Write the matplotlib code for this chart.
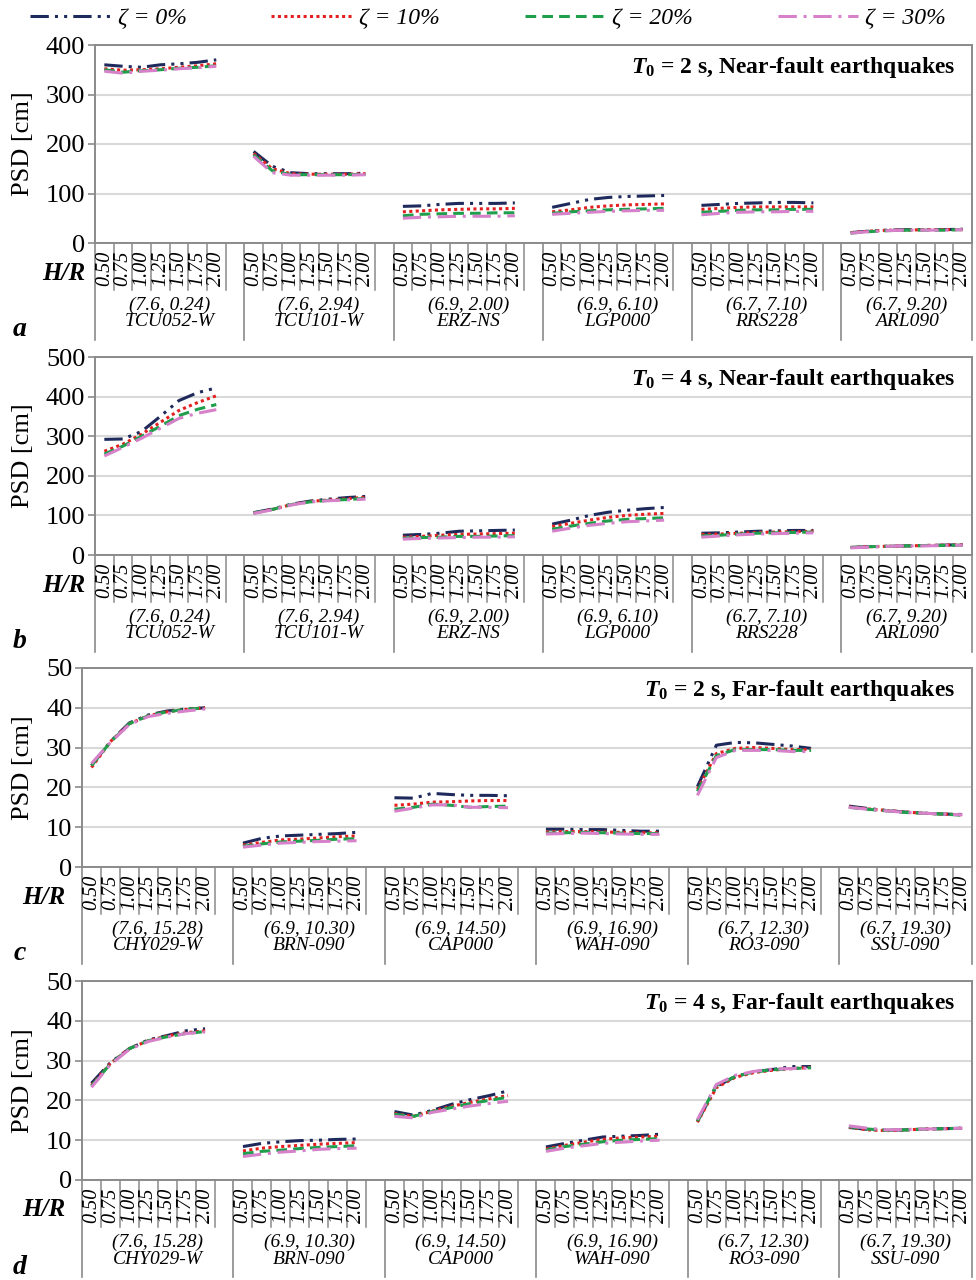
import numpy as np
import matplotlib
matplotlib.use("Agg")
import matplotlib.pyplot as plt
import matplotlib.transforms as mtransforms
from matplotlib.lines import Line2D

plt.rcParams['font.family'] = ['Liberation Serif', 'DejaVu Serif']
plt.rcParams['mathtext.fontset'] = 'custom'
plt.rcParams['mathtext.it'] = 'Liberation Serif:italic:bold'
plt.rcParams['mathtext.rm'] = 'Liberation Serif:bold'

# ---- data ----
hr_labels = ['0.50', '0.75', '1.00', '1.25', '1.50', '1.75', '2.00']
zeta_labels = ['ζ = 0%', 'ζ = 10%', 'ζ = 20%', 'ζ = 30%']

near_mw_r = ['(7.6, 0.24)', '(7.6, 2.94)', '(6.9, 2.00)', '(6.9, 6.10)', '(6.7, 7.10)', '(6.7, 9.20)']
near_names = ['TCU052-W', 'TCU101-W', 'ERZ-NS', 'LGP000', 'RRS228', 'ARL090']
far_mw_r = ['(7.6, 15.28)', '(6.9, 10.30)', '(6.9, 14.50)', '(6.9, 16.90)', '(6.7, 12.30)', '(6.7, 19.30)']
far_names = ['CHY029-W', 'BRN-090', 'CAP000', 'WAH-090', 'RO3-090', 'SSU-090']

# (a) T0 = 2 s, near-fault
a_z0 = [[360, 357, 355, 360, 362, 365, 370], [185, 155, 142, 140, 140, 140, 141], [74, 75, 78, 80, 80, 80, 81],
        [72, 80, 88, 92, 94, 95, 96], [76, 78, 80, 81, 82, 82, 81], [21, 24, 26, 27, 27, 27, 28]]
a_z10 = [[352, 349, 350, 352, 355, 358, 362], [181, 150, 140, 139, 139, 139, 140], [63, 65, 67, 68, 69, 69, 70],
         [63, 67, 72, 75, 77, 78, 79], [68, 70, 72, 73, 73, 73, 73], [21, 24, 26, 26, 27, 27, 27]]
a_z20 = [[350, 345, 348, 350, 353, 355, 358], [178, 146, 138, 138, 138, 138, 139], [55, 58, 59, 60, 60, 61, 61],
         [60, 63, 65, 67, 68, 69, 70], [62, 64, 66, 67, 67, 68, 68], [20, 23, 25, 26, 26, 26, 27]]
a_z30 = [[347, 343, 347, 349, 352, 354, 357], [175, 142, 137, 137, 137, 137, 138], [50, 52, 53, 54, 54, 54, 55],
         [58, 60, 62, 64, 65, 66, 66], [57, 60, 62, 63, 63, 64, 64], [20, 23, 25, 26, 26, 26, 27]]

# (b) T0 = 4 s, near-fault
b_z0 = [[292, 293, 312, 350, 390, 410, 422], [107, 116, 128, 136, 141, 145, 148], [50, 52, 55, 60, 61, 62, 63],
        [78, 88, 100, 108, 113, 117, 120], [55, 56, 58, 60, 61, 62, 62], [19, 21, 22, 23, 24, 25, 26]]
b_z10 = [[262, 280, 305, 335, 365, 385, 402], [106, 115, 127, 135, 139, 142, 146], [45, 47, 50, 52, 53, 54, 55],
         [72, 80, 88, 95, 100, 103, 105], [52, 53, 55, 57, 58, 59, 60], [19, 21, 22, 23, 24, 25, 26]]
b_z20 = [[255, 275, 300, 325, 352, 368, 380], [106, 115, 127, 134, 138, 140, 143], [42, 44, 45, 47, 47, 48, 49],
         [65, 73, 80, 86, 90, 92, 94], [48, 50, 53, 55, 56, 57, 58], [19, 21, 22, 23, 24, 24, 25]]
b_z30 = [[250, 272, 295, 320, 345, 358, 367], [105, 114, 126, 134, 137, 139, 141], [40, 42, 43, 44, 45, 45, 46],
         [60, 68, 75, 80, 84, 86, 88], [45, 48, 51, 53, 54, 55, 56], [18, 20, 22, 23, 23, 24, 25]]

# (c) T0 = 2 s, far-fault
c_z0 = [[25.5, 31.5, 36.2, 38.2, 39.2, 39.7, 40.0], [6.0, 7.2, 7.8, 8.0, 8.2, 8.4, 8.7],
        [17.4, 17.3, 18.5, 18.2, 18.0, 18.0, 17.9], [9.5, 9.5, 9.4, 9.4, 9.2, 9.0, 9.0],
        [20.2, 30.6, 31.3, 31.2, 30.8, 30.4, 29.8], [15.3, 14.7, 14.2, 13.8, 13.5, 13.3, 13.2]]
c_z10 = [[25.0, 31.5, 36.0, 38.0, 39.0, 39.6, 40.0], [5.5, 6.2, 6.8, 7.0, 7.3, 7.6, 7.8],
         [15.5, 15.8, 16.3, 16.4, 16.6, 16.7, 16.7], [8.8, 8.9, 8.9, 8.8, 8.7, 8.6, 8.6],
         [19.5, 28.5, 29.8, 30.0, 29.8, 29.5, 29.5], [15.1, 14.6, 14.2, 13.8, 13.5, 13.3, 13.1]]
c_z20 = [[25.5, 31.4, 36.0, 38.0, 39.0, 39.6, 40.0], [5.2, 5.8, 6.3, 6.5, 6.7, 7.0, 7.1],
         [14.5, 15.0, 15.8, 15.5, 15.0, 15.2, 15.3], [8.5, 8.6, 8.7, 8.6, 8.5, 8.4, 8.4],
         [19.0, 28.0, 29.5, 29.5, 29.5, 29.3, 29.3], [15.0, 14.5, 14.1, 13.7, 13.5, 13.3, 13.0]]
c_z30 = [[26.0, 31.3, 35.8, 37.8, 38.6, 39.2, 39.7], [5.0, 5.5, 6.0, 6.2, 6.4, 6.5, 6.6],
         [14.0, 14.8, 15.6, 15.6, 15.0, 15.0, 14.9], [8.3, 8.4, 8.5, 8.4, 8.3, 8.2, 8.2],
         [18.0, 27.5, 29.3, 29.3, 29.3, 29.0, 29.0], [15.0, 14.5, 14.1, 13.7, 13.5, 13.3, 13.1]]

# (d) T0 = 4 s, far-fault
d_z0 = [[24.3, 29.5, 33.0, 35.2, 36.3, 37.5, 38.0], [8.4, 9.2, 9.6, 9.9, 10.0, 10.2, 10.3],
        [17.2, 16.3, 17.5, 19.0, 20.2, 21.2, 22.4], [8.3, 9.2, 10.0, 10.8, 11.0, 11.2, 11.5],
        [14.7, 23.5, 26.0, 27.2, 27.8, 28.5, 28.5], [13.2, 12.7, 12.5, 12.6, 12.8, 12.9, 13.0]]
d_z10 = [[23.8, 29.3, 33.0, 35.0, 36.2, 37.0, 37.5], [7.3, 8.0, 8.4, 8.7, 9.0, 9.2, 9.4],
         [16.7, 16.0, 17.3, 18.5, 19.5, 20.4, 21.2], [7.8, 8.7, 9.5, 10.2, 10.6, 10.8, 11.0],
         [14.5, 23.2, 25.8, 27.0, 27.6, 28.0, 28.3], [13.3, 12.6, 12.4, 12.6, 12.8, 12.9, 13.0]]
d_z20 = [[23.6, 29.2, 33.0, 35.0, 36.0, 36.8, 37.3], [6.6, 7.2, 7.5, 7.9, 8.2, 8.4, 8.6],
         [16.5, 16.0, 17.2, 18.2, 19.2, 20.0, 20.8], [7.5, 8.4, 9.0, 9.6, 10.0, 10.2, 10.4],
         [14.8, 23.8, 26.0, 27.2, 27.7, 28.0, 28.2], [13.4, 12.8, 12.5, 12.6, 12.8, 12.9, 13.0]]
d_z30 = [[23.3, 29.0, 32.8, 34.8, 35.9, 36.8, 37.2], [5.9, 6.5, 7.0, 7.3, 7.7, 7.9, 8.0],
         [16.0, 15.6, 17.0, 17.8, 18.6, 19.2, 19.8], [7.2, 8.0, 8.6, 9.2, 9.5, 9.8, 10.0],
         [15.2, 24.0, 26.3, 27.3, 27.9, 28.0, 28.1], [13.6, 13.0, 12.6, 12.7, 12.8, 12.9, 13.0]]

# ---- styles ----
colors = ['#1f2a5c', '#e41f1f', '#1f9e4c', '#d681c9']
styles = [(0, (6, 2, 1, 2, 1, 2)), (0, (1, 1.1)), (0, (3.5, 2)), (0, (6, 2.2, 1, 2.2))]
lw = 2.2
grey = '#8a8a8a'

W, H = 976, 1280
fig = plt.figure(figsize=(W / 100, H / 100), dpi=100)


def fy(p):
    return 1 - p / H


def draw_panel(top, bottom, left, hr_x, ymax, ystep, series, mw_r, names, title, letter):
    right = 972
    ax = fig.add_axes([left / W, fy(bottom), (right - left) / W, (bottom - top) / H])
    for g in range(6):
        x = [8 * g + i for i in range(7)]
        for z in range(4):
            ax.plot(x, series[z][g], color=colors[z], ls=styles[z], lw=lw)
    ax.set_xlim(-0.5, 46.5)
    ax.set_ylim(0, ymax)
    ax.set_yticks(np.arange(0, ymax + 1, ystep))
    ax.set_xticks([])
    ax.grid(axis='y', color='#d9d9d9', lw=1.5)
    ax.set_axisbelow(True)
    for s in ax.spines.values():
        s.set_color(grey)
        s.set_linewidth(1.4)
    ax.tick_params(axis='y', length=5, width=1.2, color=grey, labelsize=19, pad=2)
    ax.set_ylabel('PSD [cm]', fontsize=19)
    ax.yaxis.set_label_coords((34 - left) / (right - left), 0.5)
    ax.text((955 - left) / (right - left), 0.95, r'$T_{\mathit{0}}$' + title,
            transform=ax.transAxes, ha='right', va='top', fontsize=17, fontweight='bold')

    # multi-level category axis below the plot
    trans = mtransforms.blended_transform_factory(ax.transData, fig.transFigure)
    for g in range(6):
        for i in range(7):
            xv = 8 * g + i
            ax.text(xv, fy(bottom + 25), hr_labels[i], transform=trans, rotation=90,
                    ha='center', va='center', fontsize=14.5, style='italic')
            if xv + 0.5 < 46.5:
                ax.add_artist(Line2D([xv + 0.5, xv + 0.5], [fy(bottom), fy(bottom + 47)],
                                     transform=trans, color=grey, lw=1.1, clip_on=False))
        xc = 8 * g + 3.5 if g < 5 else 43
        ax.text(xc, fy(bottom + 62), mw_r[g], transform=trans, ha='center', va='center',
                fontsize=14, style='italic')
        ax.text(xc, fy(bottom + 79), names[g], transform=trans, ha='center', va='center',
                fontsize=14, style='italic')
    for xb in [-0.5, 7.5, 15.5, 23.5, 31.5, 39.5, 46.5]:
        ax.add_artist(Line2D([xb, xb], [fy(bottom), fy(min(bottom + 97, H))],
                             transform=trans, color=grey, lw=1.2, clip_on=False))
    fig.text(hr_x / W, fy(bottom + 30), 'H/R', ha='center', va='center', fontsize=18,
             fontweight='bold', style='italic')
    fig.text(20 / W, fy(bottom + 87), letter, ha='center', va='center', fontsize=20,
             fontweight='bold', style='italic')
    return ax


draw_panel(45, 243, 95, 64, 400, 100, [a_z0, a_z10, a_z20, a_z30], near_mw_r, near_names,
           ' = 2 s, Near-fault earthquakes', 'a')
draw_panel(357, 555, 95, 64, 500, 100, [b_z0, b_z10, b_z20, b_z30], near_mw_r, near_names,
           ' = 4 s, Near-fault earthquakes', 'b')
draw_panel(668, 867, 82, 44, 50, 10, [c_z0, c_z10, c_z20, c_z30], far_mw_r, far_names,
           ' = 2 s, Far-fault earthquakes', 'c')
draw_panel(981, 1180, 82, 44, 50, 10, [d_z0, d_z10, d_z20, d_z30], far_mw_r, far_names,
           ' = 4 s, Far-fault earthquakes', 'd')

handles = [Line2D([], [], color=colors[z], ls=styles[z], lw=lw) for z in range(4)]
fig.legend(handles, zeta_labels, loc='center', bbox_to_anchor=(0.5, fy(18)), ncol=4,
           frameon=False, handlelength=3.4, handletextpad=0.3, columnspacing=3.6,
           prop={'size': 17, 'style': 'italic'})

fig.savefig('out.png', dpi=100)
